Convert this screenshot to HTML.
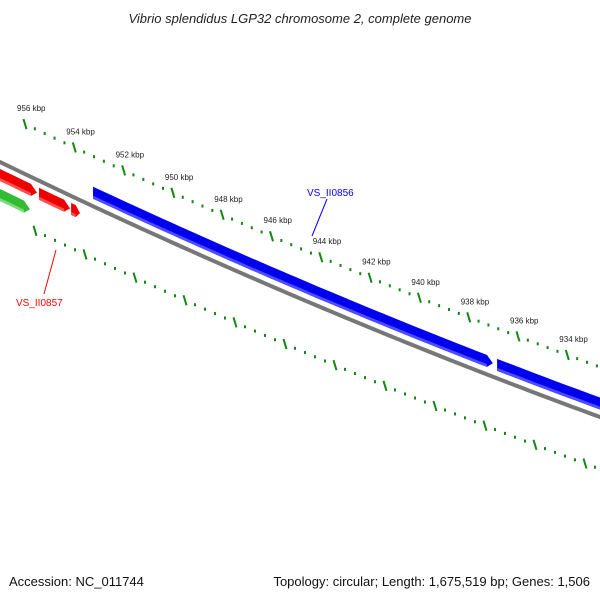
<!DOCTYPE html>
<html><head><meta charset="utf-8"><style>
body{margin:0;background:#fff}
svg{display:block;font-family:"Liberation Sans","DejaVu Sans",sans-serif}
</style></head><body>
<svg id="map" width="600" height="600" viewBox="0 0 600 600">
<text x="300" y="23" text-anchor="middle" font-size="13" font-style="italic" fill="#222">Vibrio splendidus LGP32 chromosome 2, complete genome</text>
<path id="backbone" d="" fill="none" stroke="#777" stroke-width="4"/>
<g id="ticks"></g>
<g id="genes"></g>
<line x1="327" y1="199" x2="312" y2="236" stroke="#00f" stroke-width="1"/>
<text x="307" y="196" font-size="10" fill="#00f">VS_II0856</text>
<line x1="56" y1="250" x2="44" y2="294" stroke="#f00" stroke-width="1"/>
<text x="16" y="306" font-size="10" fill="#f00">VS_II0857</text>
<text x="9" y="586" font-size="13" fill="#111">Accession: NC_011744</text>
<text x="590" y="586" text-anchor="end" font-size="13" fill="#111">Topology: circular; Length: 1,675,519 bp; Genes: 1,506</text>
</svg>
<script>
const majorTicks=[956,954,952,950,948,946,944,942,940,938,936,934,932];
const geneStart=[953.47,937.24,957.4,955.64,954.35,957.4];
const geneEnd=[937.41,932.7,955.72,954.39,953.99,956.0];
const geneColor=["blue","blue","red","red","red","green"];
const geneTrack=["fwd","fwd","rev","rev","rev","rev2"];
const NS="http://www.w3.org/2000/svg";
function curve(x){return 0.4845*x-0.0000991*x*x;}
function outerX(k){return 25+(956-k)*24.65;}
function outerY(x){return 112+curve(x);}
function innerX(k){return 35+(956-k)*25.0;}
function innerY(x){return 214+curve(x);}
function geneX(k){return 30+(956-k)*24.9;}
const trackB={fwd:148.5,rev:175,rev2:195};
const fills={blue:["#0000ee","#4d4dff"],red:["#ee0000","#ff5050"],green:["#33bb33","#77dd77"]};
let d='';for(let x=-5;x<=605;x+=5){d+=(x===-5?'M':'L')+x+','+(162+curve(x)).toFixed(2);}
document.getElementById('backbone').setAttribute('d',d);
const tg=document.getElementById('ticks'),gg=document.getElementById('genes');
function mk(tag,attrs,parent){const e=document.createElementNS(NS,tag);for(const a in attrs)e.setAttribute(a,attrs[a]);parent.appendChild(e);return e;}
majorTicks.forEach((k,i)=>{
  for(let j=0;j<5;j++){
    const kk=k-j*0.4;
    [[outerX,outerY],[innerX,innerY]].forEach(([fx,fy],t)=>{
      const x=fx(kk),y=fy(x);
      let e;
      if(j===0){e=mk('line',{x1:x-1.5,y1:y-5,x2:x+1.5,y2:y+5,stroke:'#118811','stroke-width':2},tg);
        }
      else{e=mk('rect',{x:x-1,y:y-1.5,width:2,height:3,fill:'#118811'},tg);
        }
      
    });
  }
  const x=outerX(k),y=outerY(x);
  const t=mk('text',{x:x-8,y:y-13,'font-size':8,fill:'#222'},tg);
  t.textContent=k+' kbp';
  
  
});
geneStart.forEach((s,i)=>{
  const x1=geneX(s),x2=geneX(geneEnd[i]),b=trackB[geneTrack[i]];
  const yc=x=>b+curve(x);
  const h=6,tip=Math.min(6,(x2-x1)/2);
  const c=fills[geneColor[i]];
  const top=[],bot=[],sh=[];
  const n=Math.max(2,Math.ceil((x2-tip-x1)/10));
  for(let j=0;j<=n;j++){const x=x1+(x2-tip-x1)*j/n;top.push([x,yc(x)-h]);bot.unshift([x,yc(x)+h]);}
  const pts=top.concat([[x2,yc(x2)]],bot);
  const p=mk('polygon',{points:pts.map(q=>q[0].toFixed(1)+','+q[1].toFixed(1)).join(' '),fill:c[0]},gg);
  
  
  const a=[],bb=[];
  for(let j=0;j<=n;j++){const x=x1+(x2-tip-x1)*j/n;a.push([x,yc(x)+h-3]);bb.unshift([x,yc(x)+h]);}
  const q=mk('polygon',{points:a.concat(bb).map(r=>r[0].toFixed(1)+','+r[1].toFixed(1)).join(' '),fill:c[1]},gg);
  
  
});
</script>
</body></html>
